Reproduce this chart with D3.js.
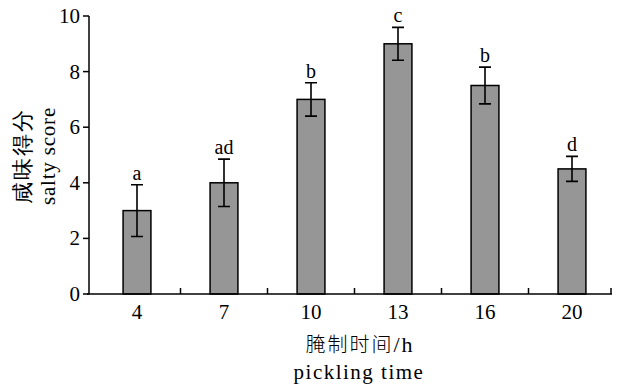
<!DOCTYPE html>
<html>
<head>
<meta charset="utf-8">
<script src="https://cdn.jsdelivr.net/npm/d3@7"></script>
<style>
  body { margin: 0; background: #fff; }
  text { font-family: "Liberation Serif", "Times New Roman", serif; fill: #000; }
</style>
</head>
<body>
<svg id="chart" width="619" height="388"></svg>
<script>
// pickling time (h) and salty score
const times = ["4", "7", "10", "13", "16", "20"];
const scores = [3.0, 4.0, 7.0, 9.0, 7.5, 4.5];
const errors = [0.93, 0.85, 0.6, 0.59, 0.66, 0.45];
const letters = ["a", "ad", "b", "c", "b", "d"];
const yTicks = [0, 2, 4, 6, 8, 10];

const svg = d3.select('#chart');
const cjkFont = '"Noto Sans CJK SC", serif';

const x0 = 89, x1 = 611;
const y = d3.scaleLinear().domain([0, 10]).range([294, 16]);
const x = d3.scaleBand().domain(times).range([93.5, 615.5]).paddingInner(0.68).paddingOuter(0.34);

// bars
svg.selectAll('.bar').data(times)
  .join('rect').attr('class', 'bar')
  .attr('x', d => x(d))
  .attr('y', (d, i) => y(scores[i]))
  .attr('width', x.bandwidth())
  .attr('height', (d, i) => y(0) - y(scores[i]))
  .attr('fill', '#969696')
  .attr('stroke', '#000')
  .attr('stroke-width', 1.5);

// error bars
const cap = 6;
const eb = svg.selectAll('.err').data(times)
  .join('g').attr('class', 'err')
  .attr('transform', d => `translate(${x(d) + x.bandwidth() / 2},0)`);
eb.append('path')
  .attr('d', (d, i) => {
    const t = y(scores[i] + errors[i]), b = y(scores[i] - errors[i]);
    return `M0 ${t} V${b} M${-cap} ${t} h${cap * 2} M${-cap} ${b} h${cap * 2}`;
  })
  .attr('fill', 'none').attr('stroke', '#000').attr('stroke-width', 1.6);

// significance letters
svg.selectAll('.sig').data(times)
  .join('text').attr('class', 'sig')
  .attr('x', d => x(d) + x.bandwidth() / 2)
  .attr('y', (d, i) => y(scores[i] + errors[i]) - 5)
  .attr('text-anchor', 'middle')
  .attr('font-size', 20)
  .text((d, i) => letters[i]);

// y axis
svg.append('line').attr('x1', x0).attr('x2', x0).attr('y1', y(10)).attr('y2', y(0))
  .attr('stroke', '#000').attr('stroke-width', 1.5);
svg.selectAll('.ytick').data(yTicks)
  .join('line').attr('class', 'ytick')
  .attr('x1', x0 - 6).attr('x2', x0)
  .attr('y1', d => y(d)).attr('y2', d => y(d))
  .attr('stroke', '#000').attr('stroke-width', 1.5);
svg.selectAll('.ylab').data(yTicks)
  .join('text').attr('class', 'ylab')
  .attr('x', x0 - 9).attr('y', d => y(d) + 7)
  .attr('text-anchor', 'end').attr('font-size', 21)
  .text(d => d);

// x axis
svg.append('line').attr('x1', x0 - 2).attr('x2', x1 + 1).attr('y1', y(0)).attr('y2', y(0))
  .attr('stroke', '#000').attr('stroke-width', 1.5);
const xTickPos = times.slice(1).map(d => x(d) - x.step() * x.paddingInner() / 2).concat([x1]);
svg.selectAll('.xtick').data(xTickPos)
  .join('line').attr('class', 'xtick')
  .attr('x1', d => d).attr('x2', d => d)
  .attr('y1', y(0) - 6).attr('y2', y(0))
  .attr('stroke', '#000').attr('stroke-width', 1.5);
svg.selectAll('.xlab').data(times)
  .join('text').attr('class', 'xlab')
  .attr('x', d => x(d) + x.bandwidth() / 2).attr('y', 319)
  .attr('text-anchor', 'middle').attr('font-size', 21)
  .text(d => d);

// axis titles
const xt = svg.append('text')
  .attr('x', 360).attr('y', 352).attr('text-anchor', 'middle')
  .attr('font-size', 20).attr('letter-spacing', 2);
xt.append('tspan').attr('font-family', cjkFont).attr('font-weight', 300).text('腌制时间');
xt.append('tspan').attr('font-size', 22).text('/h');

svg.append('text')
  .attr('x', 359).attr('y', 379).attr('text-anchor', 'middle')
  .attr('font-size', 21).attr('letter-spacing', 1.5)
  .text('pickling time');

svg.append('text')
  .attr('transform', 'translate(30,156) rotate(-90)')
  .attr('text-anchor', 'middle').attr('font-size', 22).attr('letter-spacing', 2)
  .attr('font-family', cjkFont).attr('font-weight', 300)
  .text('咸味得分');
svg.append('text')
  .attr('transform', 'translate(55,156) rotate(-90)')
  .attr('text-anchor', 'middle').attr('font-size', 21).attr('letter-spacing', 0.8)
  .text('salty score');
</script>
</body>
</html>
